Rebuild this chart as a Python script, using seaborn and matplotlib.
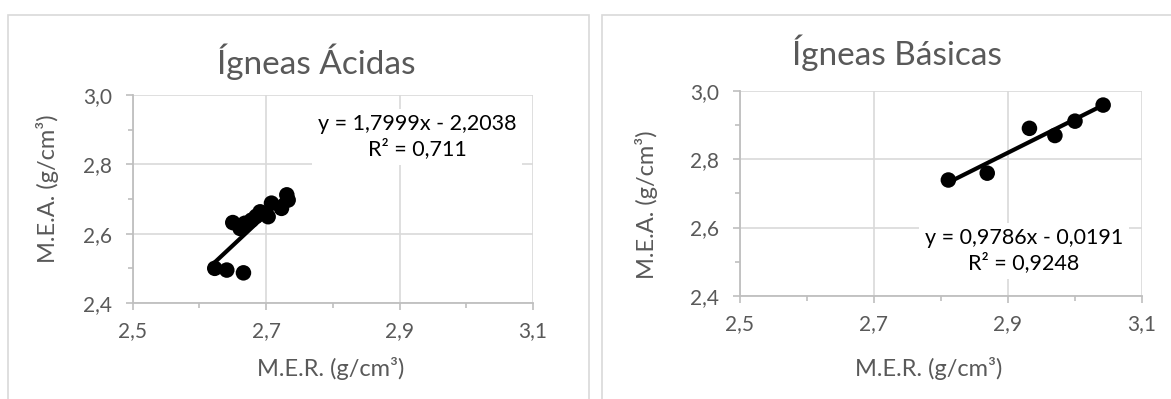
import matplotlib
matplotlib.use("Agg")
import matplotlib.pyplot as plt
from matplotlib.patches import Rectangle
from matplotlib.ticker import FixedLocator, FuncFormatter
import seaborn as sns
import pandas as pd

# --- data ---------------------------------------------------------------
acid_mer = [2.623, 2.641, 2.666, 2.650, 2.661, 2.668, 2.678, 2.685, 2.691,
            2.703, 2.708, 2.723, 2.731, 2.733]
acid_mea = [2.500, 2.495, 2.487, 2.632, 2.615, 2.630, 2.639, 2.650, 2.663,
            2.649, 2.688, 2.673, 2.712, 2.697]
acid_slope, acid_intercept, acid_r2 = 1.7999, -2.2038, "0,711"

basic_mer = [2.811, 2.869, 2.932, 2.970, 3.000, 3.042]
basic_mea = [2.739, 2.759, 2.890, 2.869, 2.911, 2.958]
basic_slope, basic_intercept, basic_r2 = 0.9786, -0.0191, "0,9248"

titles = ["Ígneas Ácidas", "Ígneas Básicas"]
x_label = "M.E.R. (g/cm³)"
y_label = "M.E.A. (g/cm³)"
x_major = [2.5, 2.7, 2.9, 3.1]
x_minor = [2.6, 2.8, 3.0]
y_major = [2.4, 2.6, 2.8, 3.0]
y_minor = [2.5, 2.7, 2.9]

# --- style --------------------------------------------------------------
sns.set_style("white")
plt.rcParams["font.family"] = ["Lato", "DejaVu Sans"]

W, H = 1171, 399
fig = plt.figure(figsize=(W / 100, H / 100), dpi=100)
fig.patch.set_facecolor("white")


def fx(px):
    return px / W


def fy(py):
    return 1 - py / H


GRID = "#d9d9d9"
AXIS = "#bfbfbf"
TEXT = "#595959"

# chart-area frames
for x0, x1 in [(8, 589), (602, 1200)]:
    fig.patches.append(Rectangle((fx(x0), fy(430)), fx(x1) - fx(x0), fy(15) - fy(430),
                                 transform=fig.transFigure, fill=False,
                                 edgecolor=GRID, linewidth=1.2, zorder=0))

panels = [
    dict(mer=acid_mer, mea=acid_mea, slope=acid_slope, icpt=acid_intercept, r2=acid_r2,
         box=(132.7, 533.0, 95.0, 303.0), title=(316, 62), ylab=(48, 189), xlab=(331, 368),
         eq=(417, 137), title_txt=titles[0]),
    dict(mer=basic_mer, mea=basic_mea, slope=basic_slope, icpt=basic_intercept, r2=basic_r2,
         box=(740.0, 1142.0, 90.7, 296.0), title=(897, 53), ylab=(646, 205), xlab=(929, 368),
         eq=(1024, 251), title_txt=titles[1]),
]


def fmt(v, _pos):
    return f"{v:.1f}".replace(".", ",")


for p in panels:
    l, r, t, b = p["box"]
    ax = fig.add_axes([fx(l), fy(b), fx(r) - fx(l), fy(t) - fy(b)])
    ax.set_facecolor("white")

    df = pd.DataFrame({"mer": p["mer"], "mea": p["mea"]})
    xs = [min(p["mer"]), max(p["mer"])]
    trend = pd.DataFrame({"mer": xs, "mea": [p["slope"] * v + p["icpt"] for v in xs]})

    sns.lineplot(data=trend, x="mer", y="mea", ax=ax, color="black", linewidth=3,
                 zorder=3, clip_on=False)
    sns.scatterplot(data=df, x="mer", y="mea", ax=ax, color="black", s=125,
                    edgecolor="none", zorder=4, clip_on=False)

    ax.set_xlim(2.5, 3.1)
    ax.set_ylim(2.4, 3.0)
    ax.xaxis.set_major_locator(FixedLocator(x_major))
    ax.xaxis.set_minor_locator(FixedLocator(x_minor))
    ax.yaxis.set_major_locator(FixedLocator(y_major))
    ax.yaxis.set_minor_locator(FixedLocator(y_minor))
    ax.xaxis.set_major_formatter(FuncFormatter(fmt))
    ax.yaxis.set_major_formatter(FuncFormatter(fmt))

    ax.grid(True, which="major", color=GRID, linewidth=1.2, zorder=0)
    ax.set_axisbelow(True)
    for side in ["top", "right"]:
        ax.spines[side].set_visible(False)
    for side in ["left", "bottom"]:
        ax.spines[side].set_color(AXIS)
        ax.spines[side].set_linewidth(1.3)

    ax.tick_params(which="major", direction="out", length=5, width=1.2, color=AXIS,
                   labelsize=15, labelcolor=TEXT, left=True, bottom=True)
    ax.tick_params(axis="x", which="major", pad=8)
    ax.tick_params(axis="y", which="major", pad=10)
    ax.tick_params(which="minor", direction="out", length=3.5, width=1.2, color=AXIS,
                   left=True, bottom=True)

    ax.set_xlabel("")
    ax.set_ylabel("")

    fig.text(fx(p["title"][0]), fy(p["title"][1]), p["title_txt"], ha="center",
             va="center", fontsize=24, color=TEXT)
    fig.text(fx(p["xlab"][0]), fy(p["xlab"][1]), x_label, ha="center", va="center",
             fontsize=17, color=TEXT)
    fig.text(fx(p["ylab"][0]), fy(p["ylab"][1]), y_label, ha="center", va="center",
             fontsize=17, color=TEXT, rotation=90)

    icpt = p["icpt"]
    sign = "-" if icpt < 0 else "+"
    eq = (f"y = {p['slope']:.4f}x {sign} {abs(icpt):.4f}".replace(".", ",")
          + f"\nR² = {p['r2']}")
    fig.text(fx(p["eq"][0]), fy(p["eq"][1]), eq, ha="center", va="center",
             fontsize=15.5, color="black", linespacing=1.25, multialignment="center",
             bbox=dict(facecolor="white", edgecolor="none", pad=4), zorder=5)

fig.savefig("out.png", dpi=100)
